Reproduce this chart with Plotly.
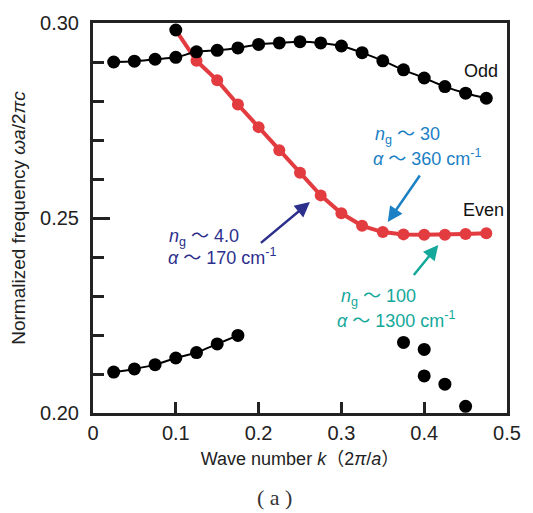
import plotly.graph_objects as go

# Odd band (upper black)
odd_k = [0.025, 0.05, 0.075, 0.1, 0.125, 0.15, 0.175, 0.2, 0.225, 0.25, 0.275,
         0.3, 0.325, 0.35, 0.375, 0.4, 0.425, 0.45, 0.475]
odd_f = [0.2900, 0.2902, 0.2907, 0.2912, 0.2926, 0.2930, 0.2936, 0.2945, 0.2949,
         0.2952, 0.2949, 0.2941, 0.2924, 0.2903, 0.2880, 0.2859, 0.2837, 0.2820, 0.2807]

# Even band (red, slow-light)
even_k = [0.1, 0.125, 0.15, 0.175, 0.2, 0.225, 0.25, 0.275, 0.3, 0.325, 0.35,
          0.375, 0.4, 0.425, 0.45, 0.475]
even_f = [0.2982, 0.2903, 0.2853, 0.2791, 0.2733, 0.2674, 0.2616, 0.2558, 0.2512,
          0.2480, 0.2464, 0.2458, 0.2457, 0.2457, 0.2459, 0.2461]

# Lower band (black)
low_k = [0.025, 0.05, 0.075, 0.1, 0.125, 0.15, 0.175]
low_f = [0.2105, 0.2113, 0.2124, 0.2141, 0.2155, 0.2177, 0.2199]

# Scattered points (no line)
sc_k = [0.375, 0.4, 0.4, 0.425, 0.45]
sc_f = [0.2181, 0.2163, 0.2095, 0.2074, 0.2017]

RED = "#e23b40"
NAVY = "#2c2f8c"
LBLUE = "#1b80c4"
TEAL = "#14a89b"
FONT = "Liberation Sans, Arial, Noto Sans CJK SC, sans-serif"

fig = go.Figure()
fig.add_trace(go.Scatter(x=even_k, y=even_f, mode="lines", line=dict(color=RED, width=4),
                         showlegend=False))
fig.add_trace(go.Scatter(x=even_k[1:], y=even_f[1:], mode="markers",
                         marker=dict(color=RED, size=12), showlegend=False))
fig.add_trace(go.Scatter(x=odd_k, y=odd_f, mode="lines+markers",
                         line=dict(color="black", width=2, shape="spline"),
                         marker=dict(color="black", size=13), showlegend=False))
fig.add_trace(go.Scatter(x=even_k[:1], y=even_f[:1], mode="markers",
                         marker=dict(color="black", size=13), showlegend=False))
fig.add_trace(go.Scatter(x=low_k, y=low_f, mode="lines+markers",
                         line=dict(color="black", width=2, shape="spline"),
                         marker=dict(color="black", size=13), showlegend=False))
fig.add_trace(go.Scatter(x=sc_k, y=sc_f, mode="markers",
                         marker=dict(color="black", size=13), showlegend=False))

ann = []
def arrow(hx, hy, tx, ty, color):
    ann.append(dict(x=hx, y=hy, ax=tx, ay=ty, xref="x", yref="y", axref="x", ayref="y",
                    showarrow=True, arrowhead=2, arrowsize=1.2, arrowwidth=2.5,
                    arrowcolor=color, text=""))

arrow(0.262, 0.2541, 0.201, 0.2433, NAVY)
arrow(0.356, 0.2490, 0.396, 0.2613, LBLUE)
arrow(0.417, 0.2431, 0.386, 0.2350, TEAL)

def label(x, y, text, color, size=18):
    ann.append(dict(x=x, y=y, xref="x", yref="y", text=text, showarrow=False,
                    xanchor="left", yanchor="middle", align="left",
                    font=dict(family=FONT, size=size, color=color)))

label(0.0893, 0.2451, "<i>n</i><sub>g</sub> ～ 4.0", NAVY)
label(0.0881, 0.2401, "<i>α</i> ～ 170 cm<sup>-1</sup>", NAVY)
label(0.3381, 0.2712, "<i>n</i><sub>g</sub> ～ 30", LBLUE)
label(0.3357, 0.2654, "<i>α</i> ～ 360 cm<sup>-1</sup>", LBLUE)
label(0.2976, 0.2296, "<i>n</i><sub>g</sub> ～ 100", TEAL)
label(0.2917, 0.2241, "<i>α</i> ～ 1300 cm<sup>-1</sup>", TEAL)
label(0.4452, 0.2877, "Odd", "#111")
label(0.4440, 0.2521, "Even", "#111")

ann.append(dict(x=0.438, y=-0.2155, xref="paper", yref="paper", text="( a )", showarrow=False,
                yanchor="middle",
                font=dict(family="Liberation Serif, serif", size=22, color="#333")))

fig.update_layout(
    width=533, height=513,
    margin=dict(l=93, r=20, t=14, b=100),
    plot_bgcolor="white", paper_bgcolor="white",
    font=dict(family=FONT, size=20, color="#222"),
    annotations=ann,
    xaxis=dict(range=[0, 0.5], tickvals=[0, 0.1, 0.2, 0.3, 0.4, 0.5],
               ticktext=["0", "0.1", "0.2", "0.3", "0.4", "0.5"],
               ticks="inside", ticklen=11, tickwidth=3, tickcolor="#222",
               showline=True, linewidth=3, linecolor="#222", mirror=True,
               showgrid=False, zeroline=False,
               title=dict(text="Wave number <i>k</i>（2<i>π</i>/<i>a</i>）", standoff=10,
                          font=dict(size=18))),
    yaxis=dict(range=[0.20, 0.30], tickvals=[0.20, 0.25, 0.30],
               ticktext=["0.20", "0.25", "0.30"],
               ticks="inside", ticklen=17, tickwidth=3, tickcolor="#222",
               ticklabelstandoff=7,
               minor=dict(dtick=0.01, tick0=0.2, ticks="inside", ticklen=11, tickwidth=3,
                          tickcolor="#222", showgrid=False),
               showline=True, linewidth=3, linecolor="#222", mirror=True,
               showgrid=False, zeroline=False,
               title=dict(text="Normalized frequency <i>ωa</i>/2<i>πc</i>", standoff=10,
                          font=dict(size=19))),
)

fig.write_html("out.html")
